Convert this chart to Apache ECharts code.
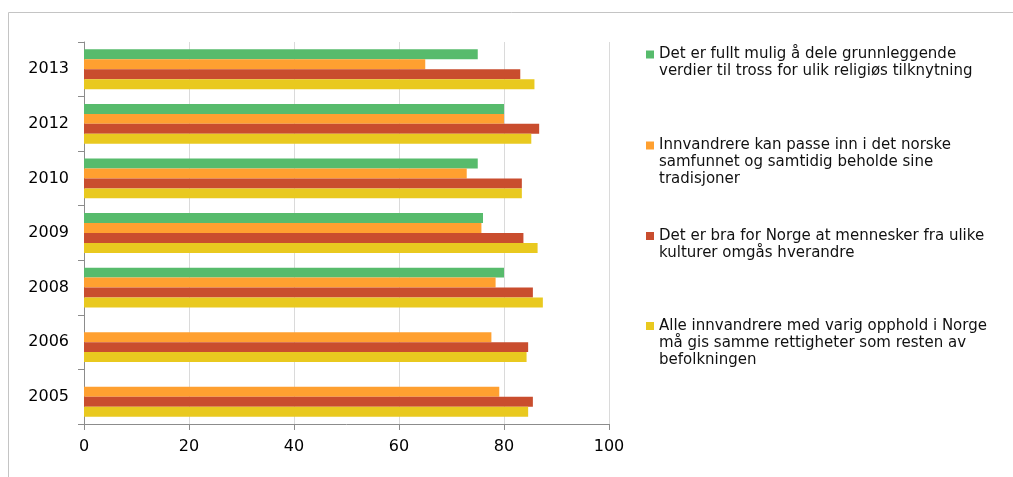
<!DOCTYPE html>
<html>
<head>
<meta charset="utf-8">
<script src="https://cdn.jsdelivr.net/npm/echarts@6/dist/echarts.min.js"></script>
<style>
  html, body { margin: 0; padding: 0; background: #fff; }
  #chart { width: 1013px; height: 477px; }
</style>
</head>
<body>
<div id="chart"></div>
<script>
// years, bottom to top
years = ["2005", "2006", "2008", "2009", "2010", "2012", "2013"]

seriesNames = [
    "Det er fullt mulig å dele grunnleggende\nverdier til tross for ulik religiøs tilknytning",
    "Innvandrere kan passe inn i det norske\nsamfunnet og samtidig beholde sine\ntradisjoner",
    "Det er bra for Norge at mennesker fra ulike\nkulturer omgås hverandre",
    "Alle innvandrere med varig opphold i Norge\nmå gis samme rettigheter som resten av\nbefolkningen"
]

greenValues  = [null, null, 80, 76, 75, 80, 75]
orangeValues = [79.1, 77.6, 78.4, 75.7, 72.9, 80, 65]
redValues    = [85.5, 84.6, 85.5, 83.7, 83.4, 86.7, 83.1]
yellowValues = [84.6, 84.3, 87.4, 86.4, 83.4, 85.2, 85.8]

xTicks = [0, 20, 40, 60, 80, 100]

colors = ["#57bb6c", "#ffa030", "#c94d2e", "#e9c91f"]

const font = "DejaVu Sans";
const lineH = 17;
// marker centres of the legend entries
const markerY = [54.5, 145.5, 236, 326];

// one legend per entry so the square sits next to the first line
var legends = seriesNames.map(function (name, i) {
    const lines = name.split("\n").length;
    return {
        data: [name],
        orient: "vertical",
        left: 646,
        top: markerY[i] - (2 * lines - 1) * lineH / 2,
        padding: 0,
        itemWidth: 8,
        itemHeight: 8,
        icon: "rect",
        selectedMode: false,
        // pad with empty lines on top so the first line is centred on the marker
        formatter: function (n) {
            return "\n".repeat(lines - 1) + n;
        },
        textStyle: {
            fontFamily: font,
            fontSize: 15,
            color: "#111",
            lineHeight: lineH
        }
    };
});

var allValues = [greenValues, orangeValues, redValues, yellowValues];

var chart = echarts.init(document.getElementById("chart"));
chart.setOption({
    animation: false,
    color: colors,
    graphic: [{
        type: "rect",
        shape: {x: 8.5, y: 12.5, width: 1200, height: 700},
        style: {fill: "none", stroke: "#c4c4c4", lineWidth: 1},
        silent: true
    }],
    legend: legends,
    grid: {left: 84, right: 404, top: 42, bottom: 53},
    xAxis: {
        type: "value",
        min: xTicks[0],
        max: xTicks[xTicks.length - 1],
        interval: 20,
        axisLine: {show: true, lineStyle: {color: "#8c8c8c"}},
        axisTick: {show: true, length: 6, lineStyle: {color: "#8c8c8c"}},
        axisLabel: {fontFamily: font, fontSize: 16, color: "#000", margin: 15},
        splitLine: {show: true, lineStyle: {color: "#dadada"}}
    },
    yAxis: {
        type: "category",
        data: years,
        axisLine: {show: true, lineStyle: {color: "#8c8c8c"}},
        axisTick: {show: true, length: 6, lineStyle: {color: "#8c8c8c"}},
        axisLabel: {fontFamily: font, fontSize: 16, color: "#000", margin: 15},
        splitLine: {show: false}
    },
    series: seriesNames.map(function (name, i) {
        return {
            name: name,
            type: "bar",
            data: allValues[i],
            barGap: "0%",
            barCategoryGap: "27%",
            itemStyle: {color: colors[i]}
        };
    })
});
</script>
</body>
</html>
